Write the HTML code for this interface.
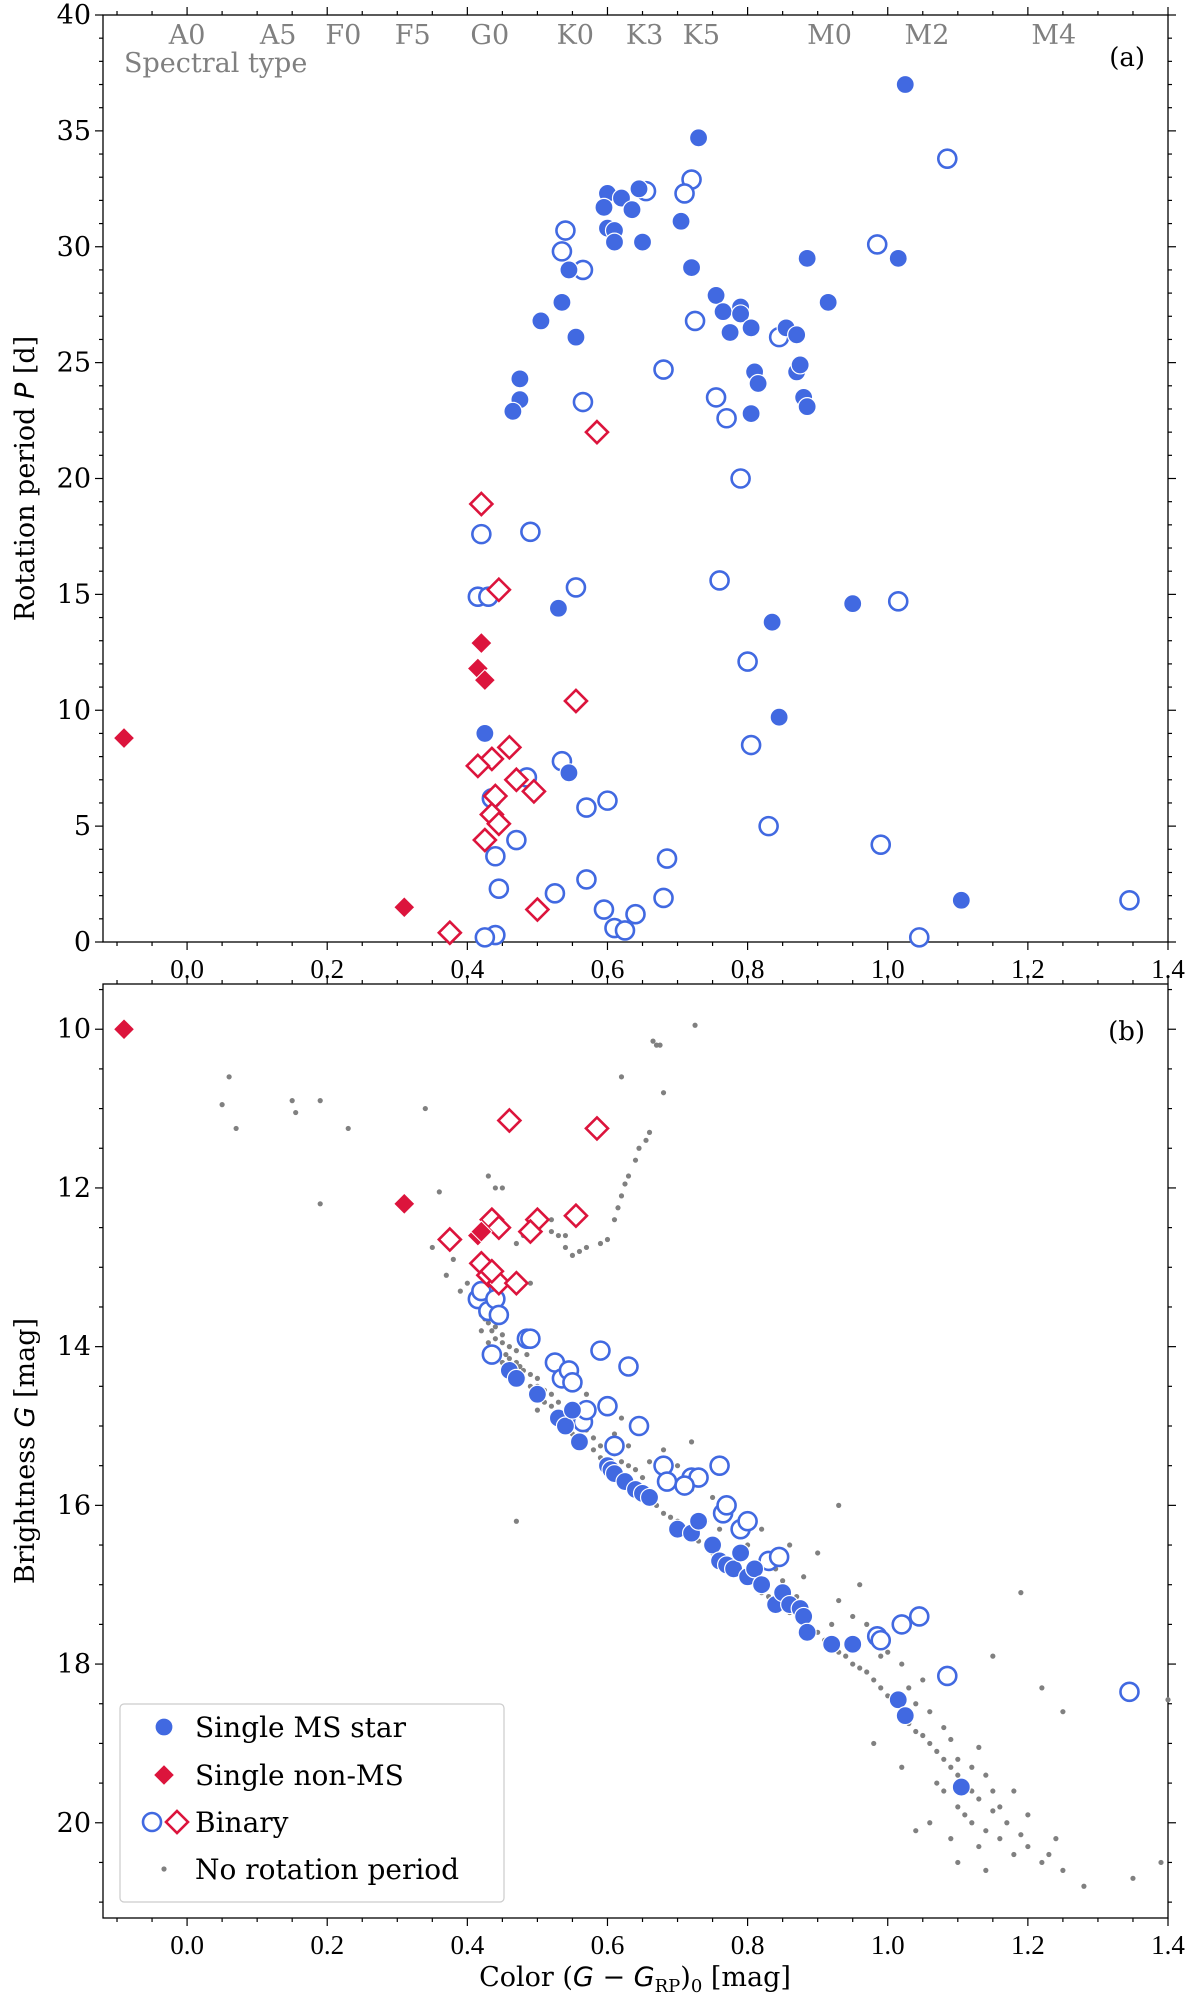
<!DOCTYPE html>
<html><head><meta charset="utf-8"><style>
html,body{margin:0;padding:0;background:#fff;}
svg{display:block;font-family:"DejaVu Serif","Liberation Serif",serif;}
</style></head><body>
<svg id="fig" width="1200" height="2003" viewBox="0 0 1200 2003">
</svg>
<script>
// ---------- data ----------
const spectralTypes=["A0","A5","F0","F5","G0","K0","K3","K5","M0","M2","M4"];
const spectralColors=[0.0,0.13,0.223,0.322,0.432,0.554,0.653,0.734,0.917,1.056,1.237];
const xTicks=[0.0,0.2,0.4,0.6,0.8,1.0,1.2,1.4];
const xTickLabels=["0.0","0.2","0.4","0.6","0.8","1.0","1.2","1.4"];
const pTicks=[0,5,10,15,20,25,30,35,40];
const gTicks=[10,12,14,16,18,20];

// panel a : [color, period]
const aSingleMS=[[1.025,37],[0.73,34.7],[0.6,32.3],[0.62,32.1],[0.595,31.7],[0.645,32.5],[0.635,31.6],[0.6,30.8],[0.61,30.7],[0.61,30.2],[0.65,30.2],[0.705,31.1],[0.72,29.1],[0.885,29.5],[1.015,29.5],[0.915,27.6],[0.755,27.9],[0.765,27.2],[0.79,27.4],[0.79,27.1],[0.775,26.3],[0.805,26.5],[0.855,26.5],[0.87,26.2],[0.81,24.6],[0.815,24.1],[0.87,24.6],[0.875,24.9],[0.88,23.5],[0.885,23.1],[0.805,22.8],[0.545,29.0],[0.535,27.6],[0.505,26.8],[0.555,26.1],[0.475,24.3],[0.475,23.4],[0.465,22.9],[0.53,14.4],[0.95,14.6],[0.835,13.8],[0.845,9.7],[0.425,9.0],[0.545,7.3],[1.105,1.8]];
const aBinaryMS=[[1.085,33.8],[0.72,32.9],[0.71,32.3],[0.655,32.4],[0.54,30.7],[0.535,29.8],[0.565,29.0],[0.985,30.1],[0.725,26.8],[0.845,26.1],[0.68,24.7],[0.565,23.3],[0.755,23.5],[0.77,22.6],[0.79,20.0],[0.42,17.6],[0.49,17.7],[0.415,14.9],[0.43,14.9],[0.555,15.3],[0.76,15.6],[1.015,14.7],[0.8,12.1],[0.805,8.5],[0.535,7.8],[0.485,7.1],[0.435,6.2],[0.6,6.1],[0.57,5.8],[0.83,5.0],[0.99,4.2],[0.47,4.4],[0.44,3.7],[0.685,3.6],[0.445,2.3],[0.57,2.7],[0.525,2.1],[0.68,1.9],[0.595,1.4],[0.64,1.2],[0.61,0.6],[0.625,0.5],[0.44,0.3],[0.425,0.2],[1.045,0.2],[1.345,1.8]];
const aBinaryNonMS=[[0.585,22.0],[0.42,18.9],[0.445,15.2],[0.555,10.4],[0.46,8.4],[0.435,7.9],[0.415,7.6],[0.47,7.0],[0.495,6.5],[0.44,6.3],[0.435,5.5],[0.445,5.1],[0.425,4.4],[0.5,1.4],[0.375,0.4]];
const aSingleNonMS=[[-0.09,8.8],[0.42,12.9],[0.415,11.8],[0.425,11.3],[0.31,1.5]];

// panel b : [color, G]
const bSingleMS=[[0.46,14.3],[0.47,14.4],[0.5,14.6],[0.53,14.9],[0.54,15.0],[0.55,14.8],[0.56,15.2],[0.6,15.5],[0.605,15.55],[0.61,15.6],[0.625,15.7],[0.64,15.8],[0.65,15.85],[0.66,15.9],[0.7,16.3],[0.72,16.35],[0.73,16.2],[0.75,16.5],[0.76,16.7],[0.77,16.75],[0.78,16.8],[0.79,16.6],[0.8,16.9],[0.81,16.8],[0.82,17.0],[0.84,17.25],[0.85,17.1],[0.86,17.25],[0.875,17.3],[0.88,17.4],[0.885,17.6],[0.92,17.75],[0.95,17.75],[1.015,18.45],[1.025,18.65],[1.105,19.55]];
const bBinaryMS=[[0.415,13.4],[0.42,13.3],[0.43,13.55],[0.44,13.4],[0.445,13.6],[0.435,14.1],[0.485,13.9],[0.49,13.9],[0.525,14.2],[0.535,14.4],[0.545,14.3],[0.55,14.45],[0.565,14.95],[0.57,14.8],[0.59,14.05],[0.6,14.75],[0.63,14.25],[0.61,15.25],[0.645,15.0],[0.68,15.5],[0.685,15.7],[0.72,15.65],[0.73,15.65],[0.71,15.75],[0.76,15.5],[0.765,16.1],[0.77,16.0],[0.79,16.3],[0.8,16.2],[0.83,16.7],[0.845,16.65],[0.985,17.65],[0.99,17.7],[1.02,17.5],[1.045,17.4],[1.085,18.15],[1.345,18.35]];
const bBinaryNonMS=[[0.46,11.15],[0.585,11.25],[0.375,12.65],[0.435,12.4],[0.445,12.5],[0.5,12.4],[0.49,12.55],[0.555,12.35],[0.42,12.95],[0.43,13.1],[0.445,13.2],[0.47,13.2],[0.435,13.05]];
const bSingleNonMS=[[-0.09,10.0],[0.31,12.2],[0.415,12.6],[0.42,12.55]];
const bNoPeriod=[[0.725,9.95],[0.665,10.15],[0.67,10.2],[0.675,10.2],[0.62,10.6],[0.68,10.8],[0.66,11.3],[0.655,11.4],[0.645,11.5],[0.64,11.65],[0.63,11.85],[0.625,11.95],[0.62,12.1],[0.615,12.25],[0.61,12.4],[0.6,12.65],[0.59,12.7],[0.57,12.75],[0.56,12.8],[0.55,12.85],[0.54,12.75],[0.53,12.6],[0.52,12.55],[0.5,12.5],[0.48,12.6],[0.47,12.7],[0.52,12.4],[0.54,12.6],[0.45,12.0],[0.43,11.85],[0.44,12.0],[0.05,10.95],[0.06,10.6],[0.07,11.25],[0.15,10.9],[0.155,11.05],[0.19,10.9],[0.23,11.25],[0.19,12.2],[0.34,11.0],[0.36,12.05],[0.35,12.75],[0.38,12.9],[0.4,13.2],[0.39,13.3],[0.37,13.1],[0.41,13.4],[0.42,13.6],[0.43,13.7],[0.42,13.8],[0.44,13.75],[0.43,13.95],[0.45,13.85],[0.44,14.05],[0.46,14.0],[0.45,14.2],[0.47,14.2],[0.46,14.35],[0.48,14.4],[0.49,14.5],[0.5,14.5],[0.51,14.7],[0.5,14.8],[0.52,14.75],[0.53,14.9],[0.54,15.05],[0.55,15.1],[0.56,15.15],[0.57,15.2],[0.58,15.3],[0.59,15.4],[0.6,15.45],[0.61,15.5],[0.62,15.6],[0.63,15.7],[0.64,15.75],[0.65,15.8],[0.66,15.95],[0.67,16.0],[0.68,16.1],[0.69,16.15],[0.7,16.2],[0.71,16.3],[0.72,16.4],[0.73,16.45],[0.74,16.5],[0.75,16.6],[0.76,16.65],[0.78,16.75],[0.79,16.85],[0.8,16.95],[0.81,17.0],[0.82,17.1],[0.83,17.15],[0.84,17.2],[0.85,17.3],[0.86,17.35],[0.87,17.4],[0.88,17.5],[0.89,17.55],[0.9,17.6],[0.91,17.7],[0.92,17.8],[0.93,17.85],[0.94,17.9],[0.95,18.0],[0.96,18.05],[0.97,18.1],[0.98,18.2],[0.99,18.3],[1.0,18.4],[1.01,18.5],[1.02,18.6],[1.03,18.75],[1.04,18.85],[1.05,18.9],[1.06,19.0],[1.07,19.1],[1.08,19.2],[1.09,19.3],[1.1,19.4],[1.11,19.5],[1.12,19.6],[1.13,19.7],[1.15,19.85],[1.17,20.0],[1.19,20.15],[0.62,14.9],[0.68,15.3],[0.7,15.5],[0.72,15.8],[0.78,16.0],[0.75,15.9],[0.8,16.5],[0.82,16.3],[0.86,16.5],[0.9,16.6],[0.84,16.8],[0.88,16.9],[0.93,17.2],[0.95,17.4],[0.97,17.5],[0.96,17.0],[0.99,17.9],[1.02,18.0],[1.05,18.2],[1.04,18.5],[1.06,18.6],[1.08,18.8],[1.09,18.95],[1.1,19.2],[1.12,19.3],[1.14,19.4],[1.15,19.6],[1.16,19.8],[1.07,19.5],[1.08,19.6],[1.1,19.8],[1.12,20.0],[1.14,20.1],[1.06,20.0],[1.09,20.2],[1.13,20.3],[1.16,20.2],[1.18,20.4],[1.2,20.3],[1.22,20.5],[1.23,20.4],[1.25,20.6],[1.28,20.8],[1.35,20.7],[1.39,20.5],[1.19,17.1],[1.22,18.3],[1.25,18.6],[1.4,18.45],[1.15,17.9],[0.93,16.0],[0.72,15.2],[0.49,13.2],[0.47,16.2],[0.61,15.1],[0.63,15.25],[0.66,15.45],[0.74,16.2],[0.76,16.3],[0.85,16.95],[0.87,17.15],[0.92,17.5],[1.0,17.85],[1.03,18.3],[1.11,19.9],[1.13,19.05],[1.18,19.6],[1.2,19.9],[1.24,20.2],[1.1,20.5],[1.14,20.6],[1.04,20.1],[1.02,19.3],[0.98,19.0],[0.425,13.65],[0.435,13.8],[0.44,13.9],[0.445,13.65],[0.45,13.95],[0.455,14.1],[0.46,14.15],[0.47,14.05],[0.475,14.25],[0.48,14.3],[0.485,14.1],[0.49,14.35],[0.5,14.4],[0.505,14.6],[0.51,14.55],[0.52,14.6],[0.53,14.7],[0.54,14.85],[0.55,14.95],[0.56,15.0],[0.57,15.05],[0.58,15.15],[0.59,15.25],[0.6,15.3],[0.61,15.35],[0.62,15.45],[0.63,15.5],[0.64,15.55],[0.65,15.65],[0.57,14.6],[0.56,14.5],[0.53,14.3]];

// ---------- helpers ----------
const svg=document.getElementById('fig');
const NS='http://www.w3.org/2000/svg';
const X0=103,X1=1168,CMIN=-0.12,CMAX=1.4;
const A_TOP=15,A_BOT=942,B_TOP=984,B_BOT=1918;
function xs(c){return X0+(c-CMIN)/(CMAX-CMIN)*(X1-X0);}
function ya(p){return A_BOT-p/40*(A_BOT-A_TOP);}
const GMIN=9.43,GMAX=21.2;
function yb(g){return B_TOP+(g-GMIN)/(GMAX-GMIN)*(B_BOT-B_TOP);}
function mk(tag,attrs,parent){const e=document.createElementNS(NS,tag);for(const k in attrs)e.setAttribute(k,attrs[k]);(parent||svg).appendChild(e);return e;}
const BLUE='#4169e1',RED='#dc143c';

function circle(g,x,y,filled){
  const e=mk('circle',{cx:x,cy:y,r:9,fill:filled?BLUE:'#fff',stroke:filled?'#fff':BLUE,'stroke-width':filled?1.2:2.6},g);
  
  
}
function diamond(g,x,y,filled){
  const s=filled?10.5:11;
  const e=mk('path',{d:`M${x} ${y-s}L${x+s} ${y}L${x} ${y+s}L${x-s} ${y}Z`,fill:filled?RED:'#fff',stroke:filled?'#fff':RED,'stroke-width':filled?1:2.6},g);
  
  
}
function text(str,x,y,attrs,name){
  const t=mk('text',Object.assign({x:x,y:y},attrs));t.textContent=str;
  
  
  return t;
}

function axesFrame(top,bot,yfun,majors,minorStep,ymin,ymax,name){
  const g=mk('g',{});
  
  
  mk('rect',{x:X0,y:top,width:X1-X0,height:bot-top,fill:'none',stroke:'#000','stroke-width':1.3},g);
  for(let c=-0.1;c<=1.4001;c+=0.05){
    const major=Math.abs(Math.round(c*10)/10-c)<1e-6&&Math.round(c*10)%2===0;
    const L=major?8:4,x=xs(c);
    mk('line',{x1:x,y1:bot,x2:x,y2:bot+L,stroke:'#000','stroke-width':1.2},g);
    mk('line',{x1:x,y1:top,x2:x,y2:top-L,stroke:'#000','stroke-width':1.2},g);
  }
  for(let v=Math.ceil(ymin/minorStep)*minorStep;v<=ymax+1e-6;v+=minorStep){
    const major=majors.some(m=>Math.abs(m-v)<1e-6),L=major?8:4,y=yfun(v);
    mk('line',{x1:X0,y1:y,x2:X0-L,y2:y,stroke:'#000','stroke-width':1.2},g);
    mk('line',{x1:X1,y1:y,x2:X1+L,y2:y,stroke:'#000','stroke-width':1.2},g);
  }
  xTicks.forEach((c,i)=>text(xTickLabels[i],xs(c),bot+36,{'font-size':27,'text-anchor':'middle',fill:'#000','font-family':'Liberation Serif, DejaVu Serif, serif'},name+'-x-tick-label'));
  majors.forEach(v=>text(String(v),X0-12,yfun(v)+9,{'font-size':27,'text-anchor':'end',fill:'#000'},name+'-y-tick-label'));
  return g;
}

// ---------- panel a ----------
axesFrame(A_TOP,A_BOT,ya,pTicks,1,0,40,'panel-a');
spectralTypes.forEach((s,i)=>text(s,xs(spectralColors[i]),44,{'font-size':27,'text-anchor':'middle',fill:'#808080'},'spectral-type-label'));
text('Spectral type',124,72,{'font-size':27,fill:'#808080'},'spectral-type-title');
text('(a)',1145,66,{'font-size':26,'text-anchor':'end',fill:'#000'},'panel-a-label');
const ga=mk('g',{});


aBinaryMS.forEach(d=>circle(ga,xs(d[0]),ya(d[1]),false));
aSingleMS.forEach(d=>circle(ga,xs(d[0]),ya(d[1]),true));
aBinaryNonMS.forEach(d=>diamond(ga,xs(d[0]),ya(d[1]),false));
aSingleNonMS.forEach(d=>diamond(ga,xs(d[0]),ya(d[1]),true));
const yla=text('',0,0,{'font-size':27,'text-anchor':'middle',transform:`translate(34,${(A_TOP+A_BOT)/2}) rotate(-90)`},'panel-a-y-axis-title');
yla.innerHTML='Rotation period <tspan font-family="DejaVu Sans" font-style="italic">P</tspan> [d]';

// ---------- panel b ----------
axesFrame(B_TOP,B_BOT,yb,gTicks,0.5,9.5,21,'panel-b');
text('(b)',1145,1040,{'font-size':26,'text-anchor':'end',fill:'#000'},'panel-b-label');
const gb=mk('g',{});


bNoPeriod.forEach(d=>{
  const e=mk('circle',{cx:xs(d[0]),cy:yb(d[1]),r:2.6,fill:'#808080'},gb);
  
  
});
bBinaryMS.forEach(d=>circle(gb,xs(d[0]),yb(d[1]),false));
bSingleMS.forEach(d=>circle(gb,xs(d[0]),yb(d[1]),true));
bBinaryNonMS.forEach(d=>diamond(gb,xs(d[0]),yb(d[1]),false));
bSingleNonMS.forEach(d=>diamond(gb,xs(d[0]),yb(d[1]),true));
const ylb=text('',0,0,{'font-size':27,'text-anchor':'middle',transform:`translate(34,${(B_TOP+B_BOT)/2}) rotate(-90)`},'panel-b-y-axis-title');
ylb.innerHTML='Brightness <tspan font-family="DejaVu Sans" font-style="italic">G</tspan> [mag]';
const xl=text('',635,1986,{'font-size':27,'text-anchor':'middle'},'x-axis-title');
xl.innerHTML='Color (<tspan font-family="DejaVu Sans" font-style="italic">G</tspan> − <tspan font-family="DejaVu Sans" font-style="italic">G</tspan><tspan font-size="18" dy="6">RP</tspan><tspan dy="-6">)</tspan><tspan font-size="18" dy="6">0</tspan><tspan dy="-6"> [mag]</tspan>';

// ---------- legend ----------
const lg=mk('g',{});


mk('rect',{x:120,y:1704,width:384,height:198,rx:4,fill:'#fff','fill-opacity':0.85,stroke:'#ccc','stroke-width':1.2},lg);
circle(lg,164,1727,true);
diamond(lg,164,1775,true);
circle(lg,152,1822,false);
diamond(lg,177,1822,false);
const ld=mk('circle',{cx:164,cy:1869,r:2.6,fill:'#808080'},lg);


text('Single MS star',195,1737,{'font-size':28},'legend-entry-single-ms');
text('Single non-MS',195,1785,{'font-size':28},'legend-entry-single-non-ms');
text('Binary',195,1832,{'font-size':28},'legend-entry-binary');
text('No rotation period',195,1879,{'font-size':28},'legend-entry-no-period');
</script>
</body></html>
